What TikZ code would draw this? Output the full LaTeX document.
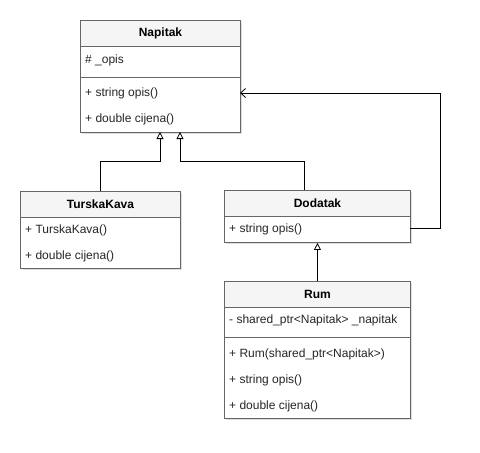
\documentclass[tikz,border=0pt]{standalone}
\usepackage{fontspec}
\setmainfont{Liberation Sans}
\usetikzlibrary{arrows.meta,shadows}
\definecolor{bordc}{RGB}{102,102,102}
\definecolor{headc}{RGB}{245,245,245}
\begin{document}
\begin{tikzpicture}[x=1pt,y=-1pt,
  font=\fontsize{12}{14}\selectfont,
  classbox/.style={draw=bordc, fill=white, line width=0.9pt, anchor=north west, inner sep=0pt,
    drop shadow={opacity=0.25, shadow xshift=2pt, shadow yshift=-2pt}},
  headbox/.style={draw=bordc, fill=headc, line width=0.9pt, anchor=north west, inner sep=0pt, minimum height=26pt, font=\fontsize{12}{14}\selectfont\bfseries},
  member/.style={anchor=west, inner sep=0pt, text=black!85},
  sepline/.style={draw=bordc, line width=0.9pt},
  inh/.style={draw=black, line width=0.8pt, -{Triangle[open, length=7pt, width=7pt]}},
  assoc/.style={draw=black, line width=0.8pt, -{Straight Barb[length=5pt, width=9pt]}}
]
\useasboundingbox (0,0) rectangle (480,453);

% Napitak
\node[classbox, minimum width=160pt, minimum height=112pt] (napitak) at (80,20) {};
\node[headbox, minimum width=160pt] (napitakH) at (80,20) {Napitak};
\node[member] (n1) at (85,60) {\# \_opis};
\draw[sepline] (napitak.west |- 0,77) -- (napitak.east |- 0,77);
\node[member] (n2) at (85,93) {+ string opis()};
\node[member] (n3) at (85,119) {+ double cijena()};

% TurskaKava
\node[classbox, minimum width=160pt, minimum height=77pt] (turska) at (20,191) {};
\node[headbox, minimum width=160pt] (turskaH) at (20,191) {TurskaKava};
\node[member] (t1) at (25,230) {+ TurskaKava()};
\node[member] (t2) at (25,256) {+ double cijena()};

% Dodatak
\node[classbox, minimum width=186pt, minimum height=52pt] (dodatak) at (224,190) {};
\node[headbox, minimum width=186pt] (dodatakH) at (224,190) {Dodatak};
\node[member] (d1) at (229,229) {+ string opis()};

% Rum
\node[classbox, minimum width=186pt, minimum height=137pt] (rum) at (224,281) {};
\node[headbox, minimum width=186pt] (rumH) at (224,281) {Rum};
\node[member] (r1) at (229,320) {- shared\_ptr<Napitak> \_napitak};
\draw[sepline] (rum.west |- 0,337) -- (rum.east |- 0,337);
\node[member] (r2) at (229,354) {+ Rum(shared\_ptr<Napitak>)};
\node[member] (r3) at (229,380) {+ string opis()};
\node[member] (r4) at (229,406) {+ double cijena()};

% connectors
\coordinate (tkTop) at (turska.north);
\coordinate (dTop) at (304,190);
\coordinate (nA) at (160,132);
\coordinate (nB) at (180,132);
\draw[inh] (tkTop) |- (160,161) -- (nA);
\draw[inh] (dTop) |- (180,161) -- (nB);
\draw[inh] (rum.north) -- (dodatak.south);
\coordinate (dR) at (410,228);
\coordinate (nR) at (240,93);
\draw[assoc] (dR) -- (440,228) -- (440,93) -- (nR);
\end{tikzpicture}
\end{document}
